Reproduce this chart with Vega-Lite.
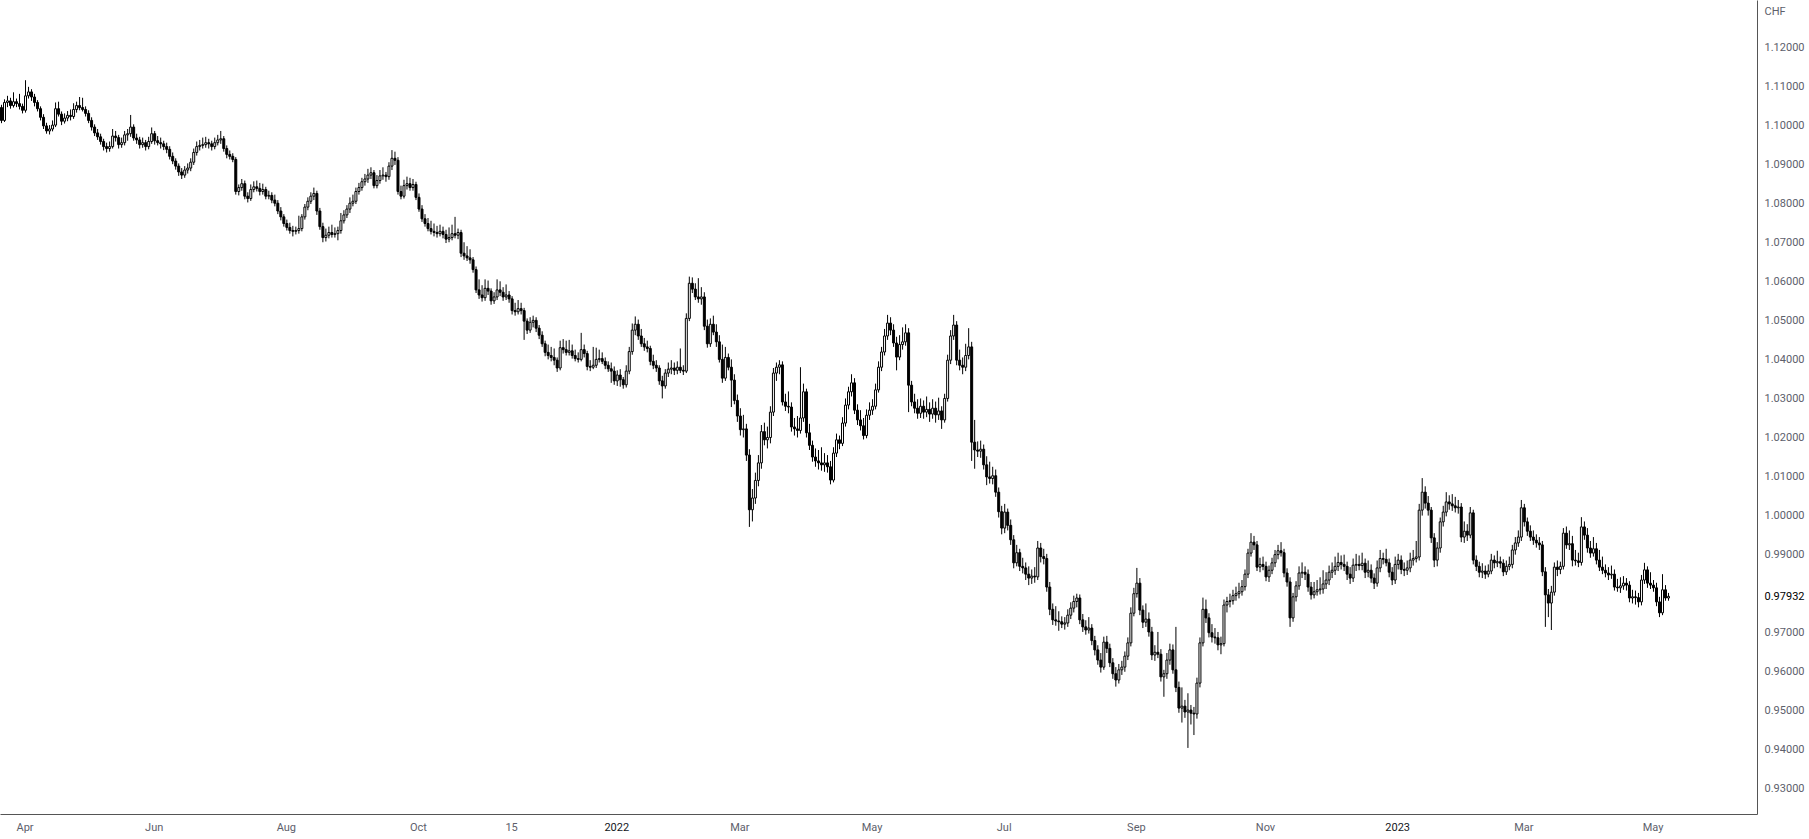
{"$schema":"https://vega.github.io/schema/vega-lite/v6.json","width":1757,"height":814,"autosize":{"type":"none"},"padding":{"left":0,"top":0,"right":52,"bottom":25},"background":"#ffffff","config":{"view":{"stroke":null},"font":"Roboto"},
"data":{"values":[
{"d":"2021-03-22","o":1.1045,"h":1.1052,"l":1.1005,"c":1.1012},
{"d":"2021-03-23","o":1.1012,"h":1.1066,"l":1.1008,"c":1.1058},
{"d":"2021-03-24","o":1.1058,"h":1.1075,"l":1.1046,"c":1.1062},
{"d":"2021-03-25","o":1.1062,"h":1.107,"l":1.1042,"c":1.105},
{"d":"2021-03-26","o":1.105,"h":1.1084,"l":1.1045,"c":1.106},
{"d":"2021-03-29","o":1.106,"h":1.1068,"l":1.1046,"c":1.1055},
{"d":"2021-03-30","o":1.1055,"h":1.108,"l":1.104,"c":1.1048},
{"d":"2021-03-31","o":1.1048,"h":1.1055,"l":1.103,"c":1.1038},
{"d":"2021-04-01","o":1.1038,"h":1.1115,"l":1.1032,"c":1.1075},
{"d":"2021-04-02","o":1.1075,"h":1.1098,"l":1.1068,"c":1.1085},
{"d":"2021-04-05","o":1.1085,"h":1.1092,"l":1.1062,"c":1.1072},
{"d":"2021-04-06","o":1.1072,"h":1.108,"l":1.1048,"c":1.1058},
{"d":"2021-04-07","o":1.1058,"h":1.1064,"l":1.1035,"c":1.1042},
{"d":"2021-04-08","o":1.1042,"h":1.1048,"l":1.1012,"c":1.102},
{"d":"2021-04-09","o":1.102,"h":1.1028,"l":1.099,"c":1.0998},
{"d":"2021-04-12","o":1.0998,"h":1.1006,"l":1.0978,"c":1.0985},
{"d":"2021-04-13","o":1.0985,"h":1.1,"l":1.0976,"c":1.099},
{"d":"2021-04-14","o":1.099,"h":1.1012,"l":1.0984,"c":1.1},
{"d":"2021-04-15","o":1.1,"h":1.1058,"l":1.0995,"c":1.1042},
{"d":"2021-04-16","o":1.1042,"h":1.106,"l":1.1022,"c":1.1028},
{"d":"2021-04-19","o":1.1028,"h":1.1035,"l":1.1,"c":1.101},
{"d":"2021-04-20","o":1.101,"h":1.103,"l":1.1004,"c":1.1018},
{"d":"2021-04-21","o":1.1018,"h":1.1036,"l":1.101,"c":1.1025},
{"d":"2021-04-22","o":1.1025,"h":1.104,"l":1.1012,"c":1.1022},
{"d":"2021-04-23","o":1.1022,"h":1.1056,"l":1.1016,"c":1.104},
{"d":"2021-04-26","o":1.104,"h":1.106,"l":1.1032,"c":1.105},
{"d":"2021-04-27","o":1.105,"h":1.1072,"l":1.1038,"c":1.1045},
{"d":"2021-04-28","o":1.1045,"h":1.107,"l":1.1035,"c":1.104},
{"d":"2021-04-29","o":1.104,"h":1.1048,"l":1.1022,"c":1.103},
{"d":"2021-04-30","o":1.103,"h":1.1038,"l":1.1005,"c":1.1012},
{"d":"2021-05-03","o":1.1012,"h":1.102,"l":1.0986,"c":1.0995},
{"d":"2021-05-04","o":1.0995,"h":1.1002,"l":1.0972,"c":1.098},
{"d":"2021-05-05","o":1.098,"h":1.099,"l":1.0962,"c":1.097},
{"d":"2021-05-06","o":1.097,"h":1.0978,"l":1.095,"c":1.0958},
{"d":"2021-05-07","o":1.0958,"h":1.0965,"l":1.0935,"c":1.0945},
{"d":"2021-05-10","o":1.0945,"h":1.0955,"l":1.093,"c":1.094},
{"d":"2021-05-11","o":1.094,"h":1.0958,"l":1.0932,"c":1.0945},
{"d":"2021-05-12","o":1.0945,"h":1.099,"l":1.094,"c":1.0972},
{"d":"2021-05-13","o":1.0972,"h":1.0985,"l":1.0958,"c":1.0968},
{"d":"2021-05-14","o":1.0968,"h":1.0975,"l":1.094,"c":1.095},
{"d":"2021-05-17","o":1.095,"h":1.0968,"l":1.0942,"c":1.0955},
{"d":"2021-05-18","o":1.0955,"h":1.0985,"l":1.0948,"c":1.0975},
{"d":"2021-05-19","o":1.0975,"h":1.099,"l":1.096,"c":1.0978},
{"d":"2021-05-20","o":1.0978,"h":1.1026,"l":1.097,"c":1.0995},
{"d":"2021-05-21","o":1.0995,"h":1.1002,"l":1.096,"c":1.0967},
{"d":"2021-05-24","o":1.0967,"h":1.0978,"l":1.0952,"c":1.0962},
{"d":"2021-05-25","o":1.0962,"h":1.097,"l":1.094,"c":1.095},
{"d":"2021-05-26","o":1.095,"h":1.0968,"l":1.0942,"c":1.0955},
{"d":"2021-05-27","o":1.0955,"h":1.0962,"l":1.0935,"c":1.0945},
{"d":"2021-05-28","o":1.0945,"h":1.097,"l":1.0938,"c":1.0958},
{"d":"2021-05-31","o":1.0958,"h":1.0994,"l":1.0952,"c":1.0978},
{"d":"2021-06-01","o":1.0978,"h":1.0985,"l":1.095,"c":1.096},
{"d":"2021-06-02","o":1.096,"h":1.0972,"l":1.0948,"c":1.0955},
{"d":"2021-06-03","o":1.0955,"h":1.0968,"l":1.094,"c":1.0952},
{"d":"2021-06-04","o":1.0952,"h":1.096,"l":1.0936,"c":1.0945},
{"d":"2021-06-07","o":1.0945,"h":1.0955,"l":1.0928,"c":1.0938},
{"d":"2021-06-08","o":1.0938,"h":1.0946,"l":1.0912,"c":1.092},
{"d":"2021-06-09","o":1.092,"h":1.093,"l":1.09,"c":1.0908},
{"d":"2021-06-10","o":1.0908,"h":1.0915,"l":1.0886,"c":1.0895},
{"d":"2021-06-11","o":1.0895,"h":1.0902,"l":1.087,"c":1.088},
{"d":"2021-06-14","o":1.088,"h":1.089,"l":1.0862,"c":1.0872},
{"d":"2021-06-15","o":1.0872,"h":1.0895,"l":1.0865,"c":1.0885},
{"d":"2021-06-16","o":1.0885,"h":1.0902,"l":1.0876,"c":1.089},
{"d":"2021-06-17","o":1.089,"h":1.0915,"l":1.0882,"c":1.0905},
{"d":"2021-06-18","o":1.0905,"h":1.094,"l":1.0898,"c":1.093},
{"d":"2021-06-21","o":1.093,"h":1.0958,"l":1.0922,"c":1.0945},
{"d":"2021-06-22","o":1.0945,"h":1.0962,"l":1.0935,"c":1.0948},
{"d":"2021-06-23","o":1.0948,"h":1.0968,"l":1.094,"c":1.095},
{"d":"2021-06-24","o":1.095,"h":1.097,"l":1.0942,"c":1.0955},
{"d":"2021-06-25","o":1.0955,"h":1.0965,"l":1.094,"c":1.0952},
{"d":"2021-06-28","o":1.0952,"h":1.096,"l":1.0935,"c":1.0945},
{"d":"2021-06-29","o":1.0945,"h":1.0968,"l":1.0938,"c":1.0955},
{"d":"2021-06-30","o":1.0955,"h":1.0975,"l":1.0948,"c":1.0962},
{"d":"2021-07-01","o":1.0962,"h":1.0985,"l":1.0952,"c":1.0965},
{"d":"2021-07-02","o":1.0965,"h":1.0972,"l":1.0932,"c":1.094},
{"d":"2021-07-05","o":1.094,"h":1.0948,"l":1.0915,"c":1.0925},
{"d":"2021-07-06","o":1.0925,"h":1.0935,"l":1.0912,"c":1.092},
{"d":"2021-07-07","o":1.092,"h":1.0928,"l":1.0905,"c":1.0912},
{"d":"2021-07-08","o":1.0912,"h":1.0918,"l":1.0822,"c":1.083},
{"d":"2021-07-09","o":1.083,"h":1.0848,"l":1.082,"c":1.084},
{"d":"2021-07-12","o":1.084,"h":1.0862,"l":1.0832,"c":1.085},
{"d":"2021-07-13","o":1.085,"h":1.0858,"l":1.081,"c":1.0818},
{"d":"2021-07-14","o":1.0818,"h":1.0828,"l":1.0802,"c":1.0812},
{"d":"2021-07-15","o":1.0812,"h":1.0848,"l":1.0806,"c":1.0835},
{"d":"2021-07-16","o":1.0835,"h":1.0856,"l":1.0828,"c":1.0842},
{"d":"2021-07-19","o":1.0842,"h":1.0858,"l":1.083,"c":1.0838},
{"d":"2021-07-20","o":1.0838,"h":1.0852,"l":1.082,"c":1.083},
{"d":"2021-07-21","o":1.083,"h":1.085,"l":1.0822,"c":1.0835},
{"d":"2021-07-22","o":1.0835,"h":1.0842,"l":1.081,"c":1.0818},
{"d":"2021-07-23","o":1.0818,"h":1.0832,"l":1.081,"c":1.082},
{"d":"2021-07-26","o":1.082,"h":1.0828,"l":1.08,"c":1.0808},
{"d":"2021-07-27","o":1.0808,"h":1.0822,"l":1.0792,"c":1.08},
{"d":"2021-07-28","o":1.08,"h":1.0808,"l":1.0772,"c":1.078},
{"d":"2021-07-29","o":1.078,"h":1.079,"l":1.0756,"c":1.0765},
{"d":"2021-07-30","o":1.0765,"h":1.0772,"l":1.074,"c":1.0748},
{"d":"2021-08-02","o":1.0748,"h":1.0758,"l":1.073,"c":1.0738},
{"d":"2021-08-03","o":1.0738,"h":1.075,"l":1.0722,"c":1.073},
{"d":"2021-08-04","o":1.073,"h":1.0742,"l":1.0715,"c":1.0728},
{"d":"2021-08-05","o":1.0728,"h":1.074,"l":1.072,"c":1.073},
{"d":"2021-08-06","o":1.073,"h":1.0768,"l":1.0722,"c":1.0735},
{"d":"2021-08-09","o":1.0735,"h":1.0772,"l":1.0728,"c":1.0765},
{"d":"2021-08-10","o":1.0765,"h":1.0798,"l":1.0758,"c":1.079},
{"d":"2021-08-11","o":1.079,"h":1.0815,"l":1.0782,"c":1.0805},
{"d":"2021-08-12","o":1.0805,"h":1.0828,"l":1.0798,"c":1.0818},
{"d":"2021-08-13","o":1.0818,"h":1.084,"l":1.0808,"c":1.0825},
{"d":"2021-08-16","o":1.0825,"h":1.0832,"l":1.077,"c":1.078},
{"d":"2021-08-17","o":1.078,"h":1.0788,"l":1.0732,"c":1.074},
{"d":"2021-08-18","o":1.074,"h":1.075,"l":1.07,"c":1.0712},
{"d":"2021-08-19","o":1.0712,"h":1.0735,"l":1.0702,"c":1.0718},
{"d":"2021-08-20","o":1.0718,"h":1.074,"l":1.071,"c":1.0725},
{"d":"2021-08-23","o":1.0725,"h":1.0745,"l":1.0712,"c":1.072},
{"d":"2021-08-24","o":1.072,"h":1.0738,"l":1.0712,"c":1.0722},
{"d":"2021-08-25","o":1.0722,"h":1.074,"l":1.0705,"c":1.073},
{"d":"2021-08-26","o":1.073,"h":1.0775,"l":1.0722,"c":1.0755},
{"d":"2021-08-27","o":1.0755,"h":1.0782,"l":1.0748,"c":1.077},
{"d":"2021-08-30","o":1.077,"h":1.0795,"l":1.0762,"c":1.0785},
{"d":"2021-08-31","o":1.0785,"h":1.0815,"l":1.0775,"c":1.08},
{"d":"2021-09-01","o":1.08,"h":1.0822,"l":1.0792,"c":1.0805},
{"d":"2021-09-02","o":1.0805,"h":1.084,"l":1.0798,"c":1.083},
{"d":"2021-09-03","o":1.083,"h":1.0852,"l":1.0822,"c":1.084},
{"d":"2021-09-06","o":1.084,"h":1.0865,"l":1.0832,"c":1.0855},
{"d":"2021-09-07","o":1.0855,"h":1.0875,"l":1.0845,"c":1.0862},
{"d":"2021-09-08","o":1.0862,"h":1.0888,"l":1.0852,"c":1.0872},
{"d":"2021-09-09","o":1.0872,"h":1.0892,"l":1.0862,"c":1.0878},
{"d":"2021-09-10","o":1.0878,"h":1.0885,"l":1.0838,"c":1.0845},
{"d":"2021-09-13","o":1.0845,"h":1.0872,"l":1.0838,"c":1.0858},
{"d":"2021-09-14","o":1.0858,"h":1.0885,"l":1.085,"c":1.087},
{"d":"2021-09-15","o":1.087,"h":1.0892,"l":1.086,"c":1.0872},
{"d":"2021-09-16","o":1.0872,"h":1.088,"l":1.0855,"c":1.0868},
{"d":"2021-09-17","o":1.0868,"h":1.0905,"l":1.086,"c":1.0895},
{"d":"2021-09-20","o":1.0895,"h":1.0936,"l":1.0885,"c":1.0915},
{"d":"2021-09-21","o":1.0915,"h":1.0932,"l":1.0898,"c":1.091},
{"d":"2021-09-22","o":1.091,"h":1.0918,"l":1.0822,"c":1.083},
{"d":"2021-09-23","o":1.083,"h":1.0845,"l":1.081,"c":1.0818},
{"d":"2021-09-24","o":1.0818,"h":1.086,"l":1.0812,"c":1.0845},
{"d":"2021-09-27","o":1.0845,"h":1.0868,"l":1.0835,"c":1.085},
{"d":"2021-09-28","o":1.085,"h":1.0865,"l":1.0832,"c":1.084},
{"d":"2021-09-29","o":1.084,"h":1.0862,"l":1.0832,"c":1.0848},
{"d":"2021-09-30","o":1.0848,"h":1.0855,"l":1.0808,"c":1.0815},
{"d":"2021-10-01","o":1.0815,"h":1.0825,"l":1.0778,"c":1.0785},
{"d":"2021-10-04","o":1.0785,"h":1.0795,"l":1.0752,"c":1.076},
{"d":"2021-10-05","o":1.076,"h":1.0772,"l":1.074,"c":1.0748},
{"d":"2021-10-06","o":1.0748,"h":1.0762,"l":1.0728,"c":1.0735},
{"d":"2021-10-07","o":1.0735,"h":1.0755,"l":1.072,"c":1.0728},
{"d":"2021-10-08","o":1.0728,"h":1.0748,"l":1.0715,"c":1.0725},
{"d":"2021-10-11","o":1.0725,"h":1.0742,"l":1.0712,"c":1.0722},
{"d":"2021-10-12","o":1.0722,"h":1.0745,"l":1.0715,"c":1.0728},
{"d":"2021-10-13","o":1.0728,"h":1.074,"l":1.071,"c":1.072},
{"d":"2021-10-14","o":1.072,"h":1.0732,"l":1.0698,"c":1.0708},
{"d":"2021-10-15","o":1.0708,"h":1.0738,"l":1.07,"c":1.0712},
{"d":"2021-10-18","o":1.0712,"h":1.0745,"l":1.0705,"c":1.0722},
{"d":"2021-10-19","o":1.0722,"h":1.0765,"l":1.071,"c":1.0718},
{"d":"2021-10-20","o":1.0718,"h":1.0735,"l":1.0708,"c":1.0725},
{"d":"2021-10-21","o":1.0725,"h":1.0732,"l":1.0662,"c":1.0672},
{"d":"2021-10-22","o":1.0672,"h":1.07,"l":1.0655,"c":1.0665},
{"d":"2021-10-25","o":1.0665,"h":1.069,"l":1.0652,"c":1.066},
{"d":"2021-10-26","o":1.066,"h":1.0682,"l":1.0645,"c":1.0655},
{"d":"2021-10-27","o":1.0655,"h":1.0662,"l":1.0622,"c":1.063},
{"d":"2021-10-28","o":1.063,"h":1.0638,"l":1.057,"c":1.0578},
{"d":"2021-10-29","o":1.0578,"h":1.0605,"l":1.0555,"c":1.0565},
{"d":"2021-11-01","o":1.0565,"h":1.059,"l":1.0548,"c":1.0558},
{"d":"2021-11-02","o":1.0558,"h":1.0605,"l":1.055,"c":1.0582},
{"d":"2021-11-03","o":1.0582,"h":1.0602,"l":1.0565,"c":1.0575},
{"d":"2021-11-04","o":1.0575,"h":1.0582,"l":1.054,"c":1.055},
{"d":"2021-11-05","o":1.055,"h":1.0572,"l":1.0542,"c":1.056},
{"d":"2021-11-08","o":1.056,"h":1.0605,"l":1.0552,"c":1.0578},
{"d":"2021-11-09","o":1.0578,"h":1.06,"l":1.0562,"c":1.0572},
{"d":"2021-11-10","o":1.0572,"h":1.0585,"l":1.055,"c":1.056},
{"d":"2021-11-11","o":1.056,"h":1.0592,"l":1.0552,"c":1.0565},
{"d":"2021-11-12","o":1.0565,"h":1.0575,"l":1.0545,"c":1.0555},
{"d":"2021-11-15","o":1.0555,"h":1.0562,"l":1.0515,"c":1.0525},
{"d":"2021-11-16","o":1.0525,"h":1.0545,"l":1.0512,"c":1.0522},
{"d":"2021-11-17","o":1.0522,"h":1.0552,"l":1.0515,"c":1.053},
{"d":"2021-11-18","o":1.053,"h":1.0545,"l":1.0515,"c":1.0525},
{"d":"2021-11-19","o":1.0525,"h":1.0532,"l":1.045,"c":1.0498},
{"d":"2021-11-22","o":1.0498,"h":1.0505,"l":1.0465,"c":1.0475},
{"d":"2021-11-23","o":1.0475,"h":1.0508,"l":1.0468,"c":1.0495},
{"d":"2021-11-24","o":1.0495,"h":1.0512,"l":1.0482,"c":1.05},
{"d":"2021-11-25","o":1.05,"h":1.0508,"l":1.047,"c":1.048},
{"d":"2021-11-26","o":1.048,"h":1.0488,"l":1.0452,"c":1.0462},
{"d":"2021-11-29","o":1.0462,"h":1.0472,"l":1.0432,"c":1.044},
{"d":"2021-11-30","o":1.044,"h":1.0448,"l":1.0408,"c":1.0418},
{"d":"2021-12-01","o":1.0418,"h":1.0438,"l":1.04,"c":1.041},
{"d":"2021-12-02","o":1.041,"h":1.0432,"l":1.0395,"c":1.0405},
{"d":"2021-12-03","o":1.0405,"h":1.0428,"l":1.0385,"c":1.0398},
{"d":"2021-12-06","o":1.0398,"h":1.0405,"l":1.0368,"c":1.0378},
{"d":"2021-12-07","o":1.0378,"h":1.0448,"l":1.0372,"c":1.043},
{"d":"2021-12-08","o":1.043,"h":1.0452,"l":1.0415,"c":1.0425},
{"d":"2021-12-09","o":1.0425,"h":1.0448,"l":1.041,"c":1.0418},
{"d":"2021-12-10","o":1.0418,"h":1.045,"l":1.041,"c":1.0422},
{"d":"2021-12-13","o":1.0422,"h":1.0438,"l":1.0402,"c":1.041},
{"d":"2021-12-14","o":1.041,"h":1.0425,"l":1.0395,"c":1.0402},
{"d":"2021-12-15","o":1.0402,"h":1.0418,"l":1.0392,"c":1.04},
{"d":"2021-12-16","o":1.04,"h":1.0468,"l":1.0395,"c":1.0425},
{"d":"2021-12-17","o":1.0425,"h":1.0438,"l":1.0405,"c":1.0415},
{"d":"2021-12-20","o":1.0415,"h":1.0422,"l":1.0372,"c":1.0382},
{"d":"2021-12-21","o":1.0382,"h":1.0398,"l":1.037,"c":1.038},
{"d":"2021-12-22","o":1.038,"h":1.0432,"l":1.0375,"c":1.0385},
{"d":"2021-12-23","o":1.0385,"h":1.043,"l":1.0378,"c":1.04},
{"d":"2021-12-24","o":1.04,"h":1.0425,"l":1.0392,"c":1.0402},
{"d":"2021-12-27","o":1.0402,"h":1.0418,"l":1.0388,"c":1.0395},
{"d":"2021-12-28","o":1.0395,"h":1.0405,"l":1.0375,"c":1.0385},
{"d":"2021-12-29","o":1.0385,"h":1.0395,"l":1.0368,"c":1.0376},
{"d":"2021-12-30","o":1.0376,"h":1.0392,"l":1.034,"c":1.037},
{"d":"2021-12-31","o":1.037,"h":1.0382,"l":1.0335,"c":1.0345},
{"d":"2022-01-03","o":1.0345,"h":1.0372,"l":1.0332,"c":1.036},
{"d":"2022-01-04","o":1.036,"h":1.0375,"l":1.033,"c":1.0348},
{"d":"2022-01-05","o":1.0348,"h":1.0355,"l":1.0325,"c":1.0335},
{"d":"2022-01-06","o":1.0335,"h":1.0385,"l":1.0328,"c":1.037},
{"d":"2022-01-07","o":1.037,"h":1.0432,"l":1.0362,"c":1.042},
{"d":"2022-01-10","o":1.042,"h":1.0492,"l":1.0412,"c":1.0475},
{"d":"2022-01-11","o":1.0475,"h":1.051,"l":1.0462,"c":1.049},
{"d":"2022-01-12","o":1.049,"h":1.0502,"l":1.045,"c":1.046},
{"d":"2022-01-13","o":1.046,"h":1.0478,"l":1.0432,"c":1.044},
{"d":"2022-01-14","o":1.044,"h":1.0455,"l":1.0422,"c":1.0432},
{"d":"2022-01-17","o":1.0432,"h":1.0448,"l":1.0418,"c":1.0428},
{"d":"2022-01-18","o":1.0428,"h":1.0435,"l":1.0385,"c":1.0395},
{"d":"2022-01-19","o":1.0395,"h":1.0412,"l":1.0375,"c":1.0385},
{"d":"2022-01-20","o":1.0385,"h":1.0398,"l":1.0368,"c":1.0378},
{"d":"2022-01-21","o":1.0378,"h":1.0385,"l":1.0335,"c":1.0345},
{"d":"2022-01-24","o":1.0345,"h":1.0358,"l":1.03,"c":1.0332},
{"d":"2022-01-25","o":1.0332,"h":1.0375,"l":1.0325,"c":1.0365},
{"d":"2022-01-26","o":1.0365,"h":1.0392,"l":1.0355,"c":1.0375},
{"d":"2022-01-27","o":1.0375,"h":1.0398,"l":1.0362,"c":1.0378},
{"d":"2022-01-28","o":1.0378,"h":1.0392,"l":1.036,"c":1.0372},
{"d":"2022-01-31","o":1.0372,"h":1.0395,"l":1.0362,"c":1.038},
{"d":"2022-02-01","o":1.038,"h":1.0428,"l":1.0365,"c":1.0372},
{"d":"2022-02-02","o":1.0372,"h":1.0385,"l":1.036,"c":1.037},
{"d":"2022-02-03","o":1.037,"h":1.0518,"l":1.0365,"c":1.0505},
{"d":"2022-02-04","o":1.0505,"h":1.0612,"l":1.0498,"c":1.0595},
{"d":"2022-02-07","o":1.0595,"h":1.061,"l":1.057,"c":1.058},
{"d":"2022-02-08","o":1.058,"h":1.0595,"l":1.0552,"c":1.056},
{"d":"2022-02-09","o":1.056,"h":1.0608,"l":1.0545,"c":1.0555},
{"d":"2022-02-10","o":1.0555,"h":1.0585,"l":1.054,"c":1.056},
{"d":"2022-02-11","o":1.056,"h":1.0572,"l":1.0475,"c":1.0485},
{"d":"2022-02-14","o":1.0485,"h":1.0502,"l":1.043,"c":1.044},
{"d":"2022-02-15","o":1.044,"h":1.0505,"l":1.0432,"c":1.049},
{"d":"2022-02-16","o":1.049,"h":1.0512,"l":1.0462,"c":1.047},
{"d":"2022-02-17","o":1.047,"h":1.049,"l":1.0432,"c":1.0445},
{"d":"2022-02-18","o":1.0445,"h":1.0462,"l":1.0392,"c":1.04},
{"d":"2022-02-21","o":1.04,"h":1.0438,"l":1.034,"c":1.0352},
{"d":"2022-02-22","o":1.0352,"h":1.0432,"l":1.0345,"c":1.0405},
{"d":"2022-02-23","o":1.0405,"h":1.0415,"l":1.0372,"c":1.038},
{"d":"2022-02-24","o":1.038,"h":1.04,"l":1.0278,"c":1.0347},
{"d":"2022-02-25","o":1.0347,"h":1.0362,"l":1.0285,"c":1.0295},
{"d":"2022-02-28","o":1.0295,"h":1.031,"l":1.024,"c":1.0255},
{"d":"2022-03-01","o":1.0255,"h":1.0275,"l":1.0205,"c":1.022},
{"d":"2022-03-02","o":1.022,"h":1.0258,"l":1.02,"c":1.0222},
{"d":"2022-03-03","o":1.0222,"h":1.0235,"l":1.014,"c":1.0155},
{"d":"2022-03-04","o":1.0155,"h":1.017,"l":0.9971,"c":1.0015},
{"d":"2022-03-07","o":1.0015,"h":1.0068,"l":0.9985,"c":1.0045},
{"d":"2022-03-08","o":1.0045,"h":1.011,"l":1.003,"c":1.009},
{"d":"2022-03-09","o":1.009,"h":1.0155,"l":1.0075,"c":1.0135},
{"d":"2022-03-10","o":1.0135,"h":1.0232,"l":1.012,"c":1.0215},
{"d":"2022-03-11","o":1.0215,"h":1.0238,"l":1.018,"c":1.0194},
{"d":"2022-03-14","o":1.0194,"h":1.0228,"l":1.0172,"c":1.02},
{"d":"2022-03-15","o":1.02,"h":1.028,"l":1.0185,"c":1.0265},
{"d":"2022-03-16","o":1.0265,"h":1.0378,"l":1.0255,"c":1.0365},
{"d":"2022-03-17","o":1.0365,"h":1.0392,"l":1.0345,"c":1.038},
{"d":"2022-03-18","o":1.038,"h":1.0398,"l":1.0362,"c":1.0386},
{"d":"2022-03-21","o":1.0386,"h":1.0395,"l":1.0282,"c":1.0291},
{"d":"2022-03-22","o":1.0291,"h":1.0312,"l":1.0268,"c":1.028},
{"d":"2022-03-23","o":1.028,"h":1.0318,"l":1.0262,"c":1.0278},
{"d":"2022-03-24","o":1.0278,"h":1.029,"l":1.0215,"c":1.0227},
{"d":"2022-03-25","o":1.0227,"h":1.025,"l":1.0205,"c":1.0222},
{"d":"2022-03-28","o":1.0222,"h":1.0255,"l":1.02,"c":1.0218},
{"d":"2022-03-29","o":1.0218,"h":1.038,"l":1.021,"c":1.025},
{"d":"2022-03-30","o":1.025,"h":1.0338,"l":1.024,"c":1.0317},
{"d":"2022-03-31","o":1.0317,"h":1.0325,"l":1.02,"c":1.0212},
{"d":"2022-04-01","o":1.0212,"h":1.0235,"l":1.0168,"c":1.018},
{"d":"2022-04-04","o":1.018,"h":1.0192,"l":1.0138,"c":1.015},
{"d":"2022-04-05","o":1.015,"h":1.0172,"l":1.0125,"c":1.014},
{"d":"2022-04-06","o":1.014,"h":1.0168,"l":1.0118,"c":1.0135},
{"d":"2022-04-07","o":1.0135,"h":1.0175,"l":1.0115,"c":1.013},
{"d":"2022-04-08","o":1.013,"h":1.016,"l":1.0112,"c":1.0135},
{"d":"2022-04-11","o":1.0135,"h":1.0155,"l":1.011,"c":1.0125},
{"d":"2022-04-12","o":1.0125,"h":1.014,"l":1.008,"c":1.0091},
{"d":"2022-04-13","o":1.0091,"h":1.0175,"l":1.0085,"c":1.016},
{"d":"2022-04-14","o":1.016,"h":1.021,"l":1.015,"c":1.0194},
{"d":"2022-04-15","o":1.0194,"h":1.0205,"l":1.017,"c":1.0185},
{"d":"2022-04-18","o":1.0185,"h":1.0252,"l":1.0178,"c":1.0237},
{"d":"2022-04-19","o":1.0237,"h":1.03,"l":1.0228,"c":1.0283},
{"d":"2022-04-20","o":1.0283,"h":1.033,"l":1.0272,"c":1.0317},
{"d":"2022-04-21","o":1.0317,"h":1.0362,"l":1.0305,"c":1.034},
{"d":"2022-04-22","o":1.034,"h":1.0352,"l":1.026,"c":1.027},
{"d":"2022-04-25","o":1.027,"h":1.0285,"l":1.0232,"c":1.0245},
{"d":"2022-04-26","o":1.0245,"h":1.027,"l":1.0218,"c":1.023},
{"d":"2022-04-27","o":1.023,"h":1.025,"l":1.0195,"c":1.0205},
{"d":"2022-04-28","o":1.0205,"h":1.0272,"l":1.0198,"c":1.0257},
{"d":"2022-04-29","o":1.0257,"h":1.029,"l":1.0245,"c":1.027},
{"d":"2022-05-02","o":1.027,"h":1.0298,"l":1.0258,"c":1.028},
{"d":"2022-05-03","o":1.028,"h":1.0338,"l":1.0272,"c":1.0322},
{"d":"2022-05-04","o":1.0322,"h":1.0395,"l":1.0315,"c":1.038},
{"d":"2022-05-05","o":1.038,"h":1.0432,"l":1.037,"c":1.0419},
{"d":"2022-05-06","o":1.0419,"h":1.0478,"l":1.041,"c":1.046},
{"d":"2022-05-09","o":1.046,"h":1.0514,"l":1.045,"c":1.0493},
{"d":"2022-05-10","o":1.0493,"h":1.0508,"l":1.0462,"c":1.0475},
{"d":"2022-05-11","o":1.0475,"h":1.049,"l":1.0432,"c":1.0442},
{"d":"2022-05-12","o":1.0442,"h":1.0458,"l":1.0372,"c":1.0406},
{"d":"2022-05-13","o":1.0406,"h":1.0462,"l":1.0398,"c":1.0438},
{"d":"2022-05-16","o":1.0438,"h":1.0482,"l":1.0425,"c":1.0445},
{"d":"2022-05-17","o":1.0445,"h":1.049,"l":1.0435,"c":1.0468},
{"d":"2022-05-18","o":1.0468,"h":1.048,"l":1.0265,"c":1.0334},
{"d":"2022-05-19","o":1.0334,"h":1.0345,"l":1.028,"c":1.0291},
{"d":"2022-05-20","o":1.0291,"h":1.0312,"l":1.0262,"c":1.0275},
{"d":"2022-05-23","o":1.0275,"h":1.0298,"l":1.0248,"c":1.0262},
{"d":"2022-05-24","o":1.0262,"h":1.03,"l":1.025,"c":1.028},
{"d":"2022-05-25","o":1.028,"h":1.0295,"l":1.0248,"c":1.0265},
{"d":"2022-05-26","o":1.0265,"h":1.0305,"l":1.0252,"c":1.0272},
{"d":"2022-05-27","o":1.0272,"h":1.029,"l":1.024,"c":1.026},
{"d":"2022-05-30","o":1.026,"h":1.0298,"l":1.0248,"c":1.0275},
{"d":"2022-05-31","o":1.0275,"h":1.0292,"l":1.0238,"c":1.0258},
{"d":"2022-06-01","o":1.0258,"h":1.0302,"l":1.0245,"c":1.0268},
{"d":"2022-06-02","o":1.0268,"h":1.028,"l":1.0222,"c":1.0245},
{"d":"2022-06-03","o":1.0245,"h":1.0312,"l":1.0238,"c":1.03},
{"d":"2022-06-06","o":1.03,"h":1.0412,"l":1.0292,"c":1.0398},
{"d":"2022-06-07","o":1.0398,"h":1.0475,"l":1.0388,"c":1.046},
{"d":"2022-06-08","o":1.046,"h":1.0514,"l":1.045,"c":1.0488},
{"d":"2022-06-09","o":1.0488,"h":1.0498,"l":1.0385,"c":1.0398},
{"d":"2022-06-10","o":1.0398,"h":1.0425,"l":1.0372,"c":1.0385},
{"d":"2022-06-13","o":1.0385,"h":1.0405,"l":1.0362,"c":1.038},
{"d":"2022-06-14","o":1.038,"h":1.044,"l":1.037,"c":1.041},
{"d":"2022-06-15","o":1.041,"h":1.048,"l":1.04,"c":1.0432},
{"d":"2022-06-16","o":1.0432,"h":1.0445,"l":1.014,"c":1.0188},
{"d":"2022-06-17","o":1.0188,"h":1.0245,"l":1.012,"c":1.0168},
{"d":"2022-06-20","o":1.0168,"h":1.019,"l":1.015,"c":1.0165},
{"d":"2022-06-21","o":1.0165,"h":1.0192,"l":1.0148,"c":1.017},
{"d":"2022-06-22","o":1.017,"h":1.0182,"l":1.0118,"c":1.013},
{"d":"2022-06-23","o":1.013,"h":1.0152,"l":1.0078,"c":1.0099},
{"d":"2022-06-24","o":1.0099,"h":1.0138,"l":1.0082,"c":1.0095},
{"d":"2022-06-27","o":1.0095,"h":1.0125,"l":1.008,"c":1.0102},
{"d":"2022-06-28","o":1.0102,"h":1.0118,"l":1.0048,"c":1.006},
{"d":"2022-06-29","o":1.006,"h":1.0072,"l":0.9995,"c":1.001},
{"d":"2022-06-30","o":1.001,"h":1.0025,"l":0.9952,"c":0.9968},
{"d":"2022-07-01","o":0.9968,"h":1.003,"l":0.9955,"c":1.0009},
{"d":"2022-07-04","o":1.0009,"h":1.0018,"l":0.9962,"c":0.9975},
{"d":"2022-07-05","o":0.9975,"h":0.999,"l":0.9925,"c":0.9938},
{"d":"2022-07-06","o":0.9938,"h":0.995,"l":0.9865,"c":0.9879},
{"d":"2022-07-07","o":0.9879,"h":0.9925,"l":0.987,"c":0.9905},
{"d":"2022-07-08","o":0.9905,"h":0.9915,"l":0.9858,"c":0.987},
{"d":"2022-07-11","o":0.987,"h":0.9892,"l":0.9852,"c":0.9866},
{"d":"2022-07-12","o":0.9866,"h":0.988,"l":0.9835,"c":0.985},
{"d":"2022-07-13","o":0.985,"h":0.987,"l":0.9822,"c":0.984},
{"d":"2022-07-14","o":0.984,"h":0.9862,"l":0.9825,"c":0.9845},
{"d":"2022-07-15","o":0.9845,"h":0.9868,"l":0.9828,"c":0.9843},
{"d":"2022-07-18","o":0.9843,"h":0.9935,"l":0.9835,"c":0.9917},
{"d":"2022-07-19","o":0.9917,"h":0.993,"l":0.988,"c":0.9895},
{"d":"2022-07-20","o":0.9895,"h":0.9915,"l":0.9875,"c":0.989},
{"d":"2022-07-21","o":0.989,"h":0.9902,"l":0.9805,"c":0.9817},
{"d":"2022-07-22","o":0.9817,"h":0.983,"l":0.9745,"c":0.976},
{"d":"2022-07-25","o":0.976,"h":0.9775,"l":0.972,"c":0.9733},
{"d":"2022-07-26","o":0.9733,"h":0.9768,"l":0.9718,"c":0.973},
{"d":"2022-07-27","o":0.973,"h":0.9755,"l":0.9705,"c":0.9728},
{"d":"2022-07-28","o":0.9728,"h":0.9742,"l":0.9712,"c":0.9722},
{"d":"2022-07-29","o":0.9722,"h":0.974,"l":0.9708,"c":0.9725},
{"d":"2022-08-01","o":0.9725,"h":0.976,"l":0.9715,"c":0.9745},
{"d":"2022-08-02","o":0.9745,"h":0.9778,"l":0.9735,"c":0.9763},
{"d":"2022-08-03","o":0.9763,"h":0.9795,"l":0.9752,"c":0.978},
{"d":"2022-08-04","o":0.978,"h":0.98,"l":0.9765,"c":0.9789},
{"d":"2022-08-05","o":0.9789,"h":0.9798,"l":0.9722,"c":0.9733},
{"d":"2022-08-08","o":0.9733,"h":0.9748,"l":0.9702,"c":0.9715},
{"d":"2022-08-09","o":0.9715,"h":0.9732,"l":0.9695,"c":0.9707},
{"d":"2022-08-10","o":0.9707,"h":0.974,"l":0.9698,"c":0.9712},
{"d":"2022-08-11","o":0.9712,"h":0.9722,"l":0.9668,"c":0.968},
{"d":"2022-08-12","o":0.968,"h":0.9692,"l":0.9642,"c":0.9656},
{"d":"2022-08-15","o":0.9656,"h":0.9668,"l":0.9618,"c":0.963},
{"d":"2022-08-16","o":0.963,"h":0.9648,"l":0.9598,"c":0.9612},
{"d":"2022-08-17","o":0.9612,"h":0.969,"l":0.9605,"c":0.9676},
{"d":"2022-08-18","o":0.9676,"h":0.9692,"l":0.9648,"c":0.966},
{"d":"2022-08-19","o":0.966,"h":0.9672,"l":0.9612,"c":0.9623},
{"d":"2022-08-22","o":0.9623,"h":0.9635,"l":0.9582,"c":0.9595},
{"d":"2022-08-23","o":0.9595,"h":0.9612,"l":0.9562,"c":0.9579},
{"d":"2022-08-24","o":0.9579,"h":0.962,"l":0.957,"c":0.9605},
{"d":"2022-08-25","o":0.9605,"h":0.9628,"l":0.9592,"c":0.9612},
{"d":"2022-08-26","o":0.9612,"h":0.9652,"l":0.96,"c":0.964},
{"d":"2022-08-29","o":0.964,"h":0.9688,"l":0.963,"c":0.9674},
{"d":"2022-08-30","o":0.9674,"h":0.9765,"l":0.9665,"c":0.975},
{"d":"2022-08-31","o":0.975,"h":0.9815,"l":0.9742,"c":0.98},
{"d":"2022-09-01","o":0.98,"h":0.9866,"l":0.979,"c":0.9827},
{"d":"2022-09-02","o":0.9827,"h":0.984,"l":0.9745,"c":0.9758},
{"d":"2022-09-05","o":0.9758,"h":0.977,"l":0.9712,"c":0.9727},
{"d":"2022-09-06","o":0.9727,"h":0.9775,"l":0.9715,"c":0.9735},
{"d":"2022-09-07","o":0.9735,"h":0.9752,"l":0.969,"c":0.9702},
{"d":"2022-09-08","o":0.9702,"h":0.9715,"l":0.963,"c":0.9643},
{"d":"2022-09-09","o":0.9643,"h":0.9668,"l":0.9628,"c":0.965},
{"d":"2022-09-12","o":0.965,"h":0.9702,"l":0.9635,"c":0.9645},
{"d":"2022-09-13","o":0.9645,"h":0.9658,"l":0.9575,"c":0.9587},
{"d":"2022-09-14","o":0.9587,"h":0.9605,"l":0.9536,"c":0.9595},
{"d":"2022-09-15","o":0.9595,"h":0.9648,"l":0.9582,"c":0.963},
{"d":"2022-09-16","o":0.963,"h":0.9672,"l":0.9618,"c":0.9656},
{"d":"2022-09-19","o":0.9656,"h":0.967,"l":0.9595,"c":0.9605},
{"d":"2022-09-20","o":0.9605,"h":0.9715,"l":0.9548,"c":0.956},
{"d":"2022-09-21","o":0.956,"h":0.9575,"l":0.9495,"c":0.9507},
{"d":"2022-09-22","o":0.9507,"h":0.956,"l":0.947,"c":0.9512},
{"d":"2022-09-23","o":0.9512,"h":0.9528,"l":0.9482,"c":0.9497},
{"d":"2022-09-26","o":0.9497,"h":0.9545,"l":0.9405,"c":0.9502},
{"d":"2022-09-27","o":0.9502,"h":0.9515,"l":0.9465,"c":0.9494},
{"d":"2022-09-28","o":0.9494,"h":0.951,"l":0.9438,"c":0.9492},
{"d":"2022-09-29","o":0.9492,"h":0.9585,"l":0.948,"c":0.9571},
{"d":"2022-09-30","o":0.9571,"h":0.9688,"l":0.956,"c":0.9674},
{"d":"2022-10-03","o":0.9674,"h":0.979,"l":0.9665,"c":0.976},
{"d":"2022-10-04","o":0.976,"h":0.9785,"l":0.9725,"c":0.9738},
{"d":"2022-10-05","o":0.9738,"h":0.975,"l":0.9688,"c":0.97},
{"d":"2022-10-06","o":0.97,"h":0.9722,"l":0.9675,"c":0.9689},
{"d":"2022-10-07","o":0.9689,"h":0.9712,"l":0.9672,"c":0.9687},
{"d":"2022-10-10","o":0.9687,"h":0.9702,"l":0.9655,"c":0.9669},
{"d":"2022-10-11","o":0.9669,"h":0.969,"l":0.9645,"c":0.9672},
{"d":"2022-10-12","o":0.9672,"h":0.9785,"l":0.9665,"c":0.9771},
{"d":"2022-10-13","o":0.9771,"h":0.9792,"l":0.9752,"c":0.978},
{"d":"2022-10-14","o":0.978,"h":0.98,"l":0.9765,"c":0.9782},
{"d":"2022-10-17","o":0.9782,"h":0.981,"l":0.9772,"c":0.9795},
{"d":"2022-10-18","o":0.9795,"h":0.9818,"l":0.9782,"c":0.98},
{"d":"2022-10-19","o":0.98,"h":0.9828,"l":0.9788,"c":0.9805},
{"d":"2022-10-20","o":0.9805,"h":0.9835,"l":0.9795,"c":0.9818},
{"d":"2022-10-21","o":0.9818,"h":0.9862,"l":0.9808,"c":0.985},
{"d":"2022-10-24","o":0.985,"h":0.9915,"l":0.984,"c":0.9904},
{"d":"2022-10-25","o":0.9904,"h":0.9955,"l":0.9895,"c":0.9932},
{"d":"2022-10-26","o":0.9932,"h":0.9948,"l":0.9912,"c":0.9925},
{"d":"2022-10-27","o":0.9925,"h":0.9935,"l":0.9858,"c":0.9868},
{"d":"2022-10-28","o":0.9868,"h":0.9892,"l":0.9855,"c":0.9875},
{"d":"2022-10-31","o":0.9875,"h":0.9895,"l":0.986,"c":0.987},
{"d":"2022-11-01","o":0.987,"h":0.9882,"l":0.9832,"c":0.9843},
{"d":"2022-11-02","o":0.9843,"h":0.9872,"l":0.983,"c":0.986},
{"d":"2022-11-03","o":0.986,"h":0.9892,"l":0.985,"c":0.9879},
{"d":"2022-11-04","o":0.9879,"h":0.9912,"l":0.9868,"c":0.99},
{"d":"2022-11-07","o":0.99,"h":0.9925,"l":0.9888,"c":0.991},
{"d":"2022-11-08","o":0.991,"h":0.9932,"l":0.9895,"c":0.9905},
{"d":"2022-11-09","o":0.9905,"h":0.9915,"l":0.9842,"c":0.9853},
{"d":"2022-11-10","o":0.9853,"h":0.9865,"l":0.9818,"c":0.983},
{"d":"2022-11-11","o":0.983,"h":0.9842,"l":0.9715,"c":0.9738},
{"d":"2022-11-14","o":0.9738,"h":0.9802,"l":0.9728,"c":0.9792},
{"d":"2022-11-15","o":0.9792,"h":0.9832,"l":0.978,"c":0.982},
{"d":"2022-11-16","o":0.982,"h":0.987,"l":0.981,"c":0.9853},
{"d":"2022-11-17","o":0.9853,"h":0.988,"l":0.984,"c":0.9855},
{"d":"2022-11-18","o":0.9855,"h":0.987,"l":0.9835,"c":0.985},
{"d":"2022-11-21","o":0.985,"h":0.9862,"l":0.9805,"c":0.9817},
{"d":"2022-11-22","o":0.9817,"h":0.983,"l":0.9785,"c":0.9797},
{"d":"2022-11-23","o":0.9797,"h":0.983,"l":0.9788,"c":0.9805},
{"d":"2022-11-24","o":0.9805,"h":0.9835,"l":0.9795,"c":0.981},
{"d":"2022-11-25","o":0.981,"h":0.9842,"l":0.9798,"c":0.9812},
{"d":"2022-11-28","o":0.9812,"h":0.986,"l":0.98,"c":0.9825},
{"d":"2022-11-29","o":0.9825,"h":0.9855,"l":0.9812,"c":0.9835},
{"d":"2022-11-30","o":0.9835,"h":0.9872,"l":0.9822,"c":0.9855},
{"d":"2022-12-01","o":0.9855,"h":0.988,"l":0.984,"c":0.986},
{"d":"2022-12-02","o":0.986,"h":0.9895,"l":0.9848,"c":0.987},
{"d":"2022-12-05","o":0.987,"h":0.9905,"l":0.9858,"c":0.988},
{"d":"2022-12-06","o":0.988,"h":0.9898,"l":0.9862,"c":0.9875},
{"d":"2022-12-07","o":0.9875,"h":0.99,"l":0.9858,"c":0.987},
{"d":"2022-12-08","o":0.987,"h":0.9882,"l":0.9835,"c":0.985},
{"d":"2022-12-09","o":0.985,"h":0.9868,"l":0.9825,"c":0.984},
{"d":"2022-12-12","o":0.984,"h":0.989,"l":0.983,"c":0.9873},
{"d":"2022-12-13","o":0.9873,"h":0.9902,"l":0.9858,"c":0.9875},
{"d":"2022-12-14","o":0.9875,"h":0.9898,"l":0.986,"c":0.9872},
{"d":"2022-12-15","o":0.9872,"h":0.9905,"l":0.986,"c":0.9878},
{"d":"2022-12-16","o":0.9878,"h":0.989,"l":0.984,"c":0.9855},
{"d":"2022-12-19","o":0.9855,"h":0.9885,"l":0.9842,"c":0.986},
{"d":"2022-12-20","o":0.986,"h":0.9875,"l":0.9828,"c":0.984},
{"d":"2022-12-21","o":0.984,"h":0.9852,"l":0.9812,"c":0.9827},
{"d":"2022-12-22","o":0.9827,"h":0.9885,"l":0.9818,"c":0.9866},
{"d":"2022-12-23","o":0.9866,"h":0.9912,"l":0.9855,"c":0.989},
{"d":"2022-12-26","o":0.989,"h":0.9905,"l":0.9875,"c":0.9888},
{"d":"2022-12-27","o":0.9888,"h":0.9915,"l":0.987,"c":0.9879},
{"d":"2022-12-28","o":0.9879,"h":0.989,"l":0.9842,"c":0.9855},
{"d":"2022-12-29","o":0.9855,"h":0.9868,"l":0.9822,"c":0.9835},
{"d":"2022-12-30","o":0.9835,"h":0.9895,"l":0.9825,"c":0.9875},
{"d":"2023-01-02","o":0.9875,"h":0.9902,"l":0.9862,"c":0.9886},
{"d":"2023-01-03","o":0.9886,"h":0.9898,"l":0.985,"c":0.9862},
{"d":"2023-01-04","o":0.9862,"h":0.988,"l":0.9845,"c":0.986},
{"d":"2023-01-05","o":0.986,"h":0.9885,"l":0.9848,"c":0.9866},
{"d":"2023-01-06","o":0.9866,"h":0.9905,"l":0.9855,"c":0.9886},
{"d":"2023-01-09","o":0.9886,"h":0.9912,"l":0.9872,"c":0.989},
{"d":"2023-01-10","o":0.989,"h":0.9935,"l":0.988,"c":0.9894},
{"d":"2023-01-11","o":0.9894,"h":1.003,"l":0.9885,"c":1.0014},
{"d":"2023-01-12","o":1.0014,"h":1.0096,"l":1.0,"c":1.006},
{"d":"2023-01-13","o":1.006,"h":1.0075,"l":1.0018,"c":1.0032},
{"d":"2023-01-16","o":1.0032,"h":1.005,"l":1.0,"c":1.0014},
{"d":"2023-01-17","o":1.0014,"h":1.0022,"l":0.993,"c":0.9943},
{"d":"2023-01-18","o":0.9943,"h":0.9955,"l":0.9868,"c":0.9886},
{"d":"2023-01-19","o":0.9886,"h":0.9932,"l":0.987,"c":0.9917},
{"d":"2023-01-20","o":0.9917,"h":0.9995,"l":0.9905,"c":0.9984},
{"d":"2023-01-23","o":0.9984,"h":1.0025,"l":0.9972,"c":1.0009},
{"d":"2023-01-24","o":1.0009,"h":1.006,"l":0.9998,"c":1.0035},
{"d":"2023-01-25","o":1.0035,"h":1.0052,"l":1.0015,"c":1.003},
{"d":"2023-01-26","o":1.003,"h":1.0055,"l":1.0012,"c":1.0025},
{"d":"2023-01-27","o":1.0025,"h":1.0048,"l":1.0008,"c":1.002},
{"d":"2023-01-30","o":1.002,"h":1.004,"l":1.0005,"c":1.0022},
{"d":"2023-01-31","o":1.0022,"h":1.0032,"l":0.9932,"c":0.9945},
{"d":"2023-02-01","o":0.9945,"h":0.9985,"l":0.993,"c":0.996},
{"d":"2023-02-02","o":0.996,"h":0.9978,"l":0.9935,"c":0.995},
{"d":"2023-02-03","o":0.995,"h":1.0022,"l":0.9942,"c":1.0007},
{"d":"2023-02-06","o":1.0007,"h":1.0015,"l":0.9875,"c":0.9886},
{"d":"2023-02-07","o":0.9886,"h":0.9898,"l":0.9858,"c":0.987},
{"d":"2023-02-08","o":0.987,"h":0.9882,"l":0.9842,"c":0.9855},
{"d":"2023-02-09","o":0.9855,"h":0.9878,"l":0.984,"c":0.9858},
{"d":"2023-02-10","o":0.9858,"h":0.9872,"l":0.9838,"c":0.985},
{"d":"2023-02-13","o":0.985,"h":0.9875,"l":0.9842,"c":0.9858},
{"d":"2023-02-14","o":0.9858,"h":0.9902,"l":0.985,"c":0.9886},
{"d":"2023-02-15","o":0.9886,"h":0.9898,"l":0.9865,"c":0.9879},
{"d":"2023-02-16","o":0.9879,"h":0.991,"l":0.9868,"c":0.9882},
{"d":"2023-02-17","o":0.9882,"h":0.9895,"l":0.9865,"c":0.9878},
{"d":"2023-02-20","o":0.9878,"h":0.9888,"l":0.9845,"c":0.9856},
{"d":"2023-02-21","o":0.9856,"h":0.9885,"l":0.9848,"c":0.987},
{"d":"2023-02-22","o":0.987,"h":0.9895,"l":0.986,"c":0.9875},
{"d":"2023-02-23","o":0.9875,"h":0.9925,"l":0.9865,"c":0.9912},
{"d":"2023-02-24","o":0.9912,"h":0.9945,"l":0.99,"c":0.993},
{"d":"2023-02-27","o":0.993,"h":0.9962,"l":0.992,"c":0.9945},
{"d":"2023-02-28","o":0.9945,"h":1.004,"l":0.9935,"c":1.002},
{"d":"2023-03-01","o":1.002,"h":1.003,"l":0.9972,"c":0.9984},
{"d":"2023-03-02","o":0.9984,"h":0.9995,"l":0.9948,"c":0.996},
{"d":"2023-03-03","o":0.996,"h":0.9975,"l":0.9935,"c":0.9945},
{"d":"2023-03-06","o":0.9945,"h":0.9962,"l":0.9925,"c":0.9937},
{"d":"2023-03-07","o":0.9937,"h":0.9952,"l":0.9918,"c":0.993},
{"d":"2023-03-08","o":0.993,"h":0.9945,"l":0.9912,"c":0.9925},
{"d":"2023-03-09","o":0.9925,"h":0.9935,"l":0.9845,"c":0.9856},
{"d":"2023-03-10","o":0.9856,"h":0.9868,"l":0.9715,"c":0.9797},
{"d":"2023-03-13","o":0.9797,"h":0.9812,"l":0.974,"c":0.9776},
{"d":"2023-03-14","o":0.9776,"h":0.982,"l":0.9707,"c":0.9804},
{"d":"2023-03-15","o":0.9804,"h":0.988,"l":0.9795,"c":0.9868},
{"d":"2023-03-16","o":0.9868,"h":0.9885,"l":0.9845,"c":0.9862},
{"d":"2023-03-17","o":0.9862,"h":0.9882,"l":0.985,"c":0.987},
{"d":"2023-03-20","o":0.987,"h":0.9968,"l":0.9862,"c":0.9955},
{"d":"2023-03-21","o":0.9955,"h":0.9972,"l":0.9915,"c":0.9925},
{"d":"2023-03-22","o":0.9925,"h":0.9962,"l":0.9912,"c":0.9928},
{"d":"2023-03-23","o":0.9928,"h":0.9948,"l":0.987,"c":0.9886},
{"d":"2023-03-24","o":0.9886,"h":0.9912,"l":0.9872,"c":0.9884},
{"d":"2023-03-27","o":0.9884,"h":0.9905,"l":0.9868,"c":0.988},
{"d":"2023-03-28","o":0.988,"h":0.9996,"l":0.9872,"c":0.9971},
{"d":"2023-03-29","o":0.9971,"h":0.9985,"l":0.9938,"c":0.995},
{"d":"2023-03-30","o":0.995,"h":0.9968,"l":0.9905,"c":0.9917},
{"d":"2023-03-31","o":0.9917,"h":0.9935,"l":0.9892,"c":0.9904},
{"d":"2023-04-03","o":0.9904,"h":0.9945,"l":0.9895,"c":0.9915},
{"d":"2023-04-04","o":0.9915,"h":0.993,"l":0.9875,"c":0.9886},
{"d":"2023-04-05","o":0.9886,"h":0.9912,"l":0.9858,"c":0.9868},
{"d":"2023-04-06","o":0.9868,"h":0.9895,"l":0.985,"c":0.986},
{"d":"2023-04-07","o":0.986,"h":0.9875,"l":0.9842,"c":0.9853},
{"d":"2023-04-10","o":0.9853,"h":0.9868,"l":0.9835,"c":0.9848},
{"d":"2023-04-11","o":0.9848,"h":0.9872,"l":0.9838,"c":0.985},
{"d":"2023-04-12","o":0.985,"h":0.9862,"l":0.9808,"c":0.9817},
{"d":"2023-04-13","o":0.9817,"h":0.9838,"l":0.9805,"c":0.9815},
{"d":"2023-04-14","o":0.9815,"h":0.9842,"l":0.9802,"c":0.982},
{"d":"2023-04-17","o":0.982,"h":0.9845,"l":0.981,"c":0.9827},
{"d":"2023-04-18","o":0.9827,"h":0.984,"l":0.9808,"c":0.9822},
{"d":"2023-04-19","o":0.9822,"h":0.9832,"l":0.9778,"c":0.9789},
{"d":"2023-04-20","o":0.9789,"h":0.981,"l":0.9775,"c":0.9792},
{"d":"2023-04-21","o":0.9792,"h":0.9808,"l":0.9772,"c":0.979},
{"d":"2023-04-24","o":0.979,"h":0.9802,"l":0.9765,"c":0.9779},
{"d":"2023-04-25","o":0.9779,"h":0.9848,"l":0.977,"c":0.9835},
{"d":"2023-04-26","o":0.9835,"h":0.9879,"l":0.9825,"c":0.9861},
{"d":"2023-04-27","o":0.9861,"h":0.987,"l":0.9815,"c":0.9827},
{"d":"2023-04-28","o":0.9827,"h":0.9855,"l":0.9812,"c":0.9822},
{"d":"2023-05-01","o":0.9822,"h":0.9835,"l":0.9805,"c":0.9815},
{"d":"2023-05-02","o":0.9815,"h":0.9828,"l":0.9768,"c":0.9779},
{"d":"2023-05-03","o":0.9779,"h":0.9792,"l":0.974,"c":0.9751},
{"d":"2023-05-04","o":0.9751,"h":0.985,"l":0.9745,"c":0.981},
{"d":"2023-05-05","o":0.981,"h":0.9822,"l":0.9782,"c":0.9789},
{"d":"2023-05-08","o":0.9789,"h":0.9802,"l":0.9782,"c":0.97932}
]},
"encoding":{"x":{"field":"d","type":"ordinal","sort":null,"scale":{"type":"band","paddingInner":0.34,"paddingOuter":0,"rangeMax":1669},
"axis":{"orient":"bottom","title":null,"ticks":false,"grid":false,"domain":true,"domainColor":"#555555","domainWidth":1,"labelAngle":0,"labelPadding":7,"labelFont":"Roboto","labelFontSize":11,"labelFlush":false,"labelOverlap":false,
"values":["2021-04-01","2021-06-01","2021-08-02","2021-10-01","2021-11-15","2022-01-03","2022-03-01","2022-05-02","2022-07-01","2022-09-01","2022-11-01","2023-01-02","2023-03-01","2023-05-01"],
"labelExpr":"datum.value=='2021-11-15'?'15':(slice(datum.value,5,7)=='01'?slice(datum.value,0,4):utcFormat(toDate(datum.value+'T00:00:00Z'),'%b'))",
"labelColor":{"condition":{"test":"slice(datum.value,5,7)=='01'","value":"#131722"},"value":"#5d606b"}}}},
"layer":[
{"mark":{"type":"rule","color":"#000000","strokeWidth":1,"xOffset":0.5},
"encoding":{"y":{"field":"l","type":"quantitative","scale":{"domain":[0.92358,1.13204],"zero":false,"nice":false},
"axis":{"orient":"right","title":"CHF","titleAngle":0,"titleAlign":"left","titleBaseline":"middle","titleX":7,"titleY":11,"titleFont":"Roboto","titleFontSize":11,"titleFontWeight":"normal","titleColor":"#5d606b","ticks":false,"grid":true,"gridColor":{"condition":{"test":"datum.value<0.925","value":"#555555"},"value":"transparent"},"gridWidth":1,"domain":true,"domainColor":"#555555","domainWidth":1,"labelPadding":7,"labelFont":"Roboto","labelFontSize":11,"labelAlign":"left","labelBaseline":"middle","labelOverlap":false,"labelFlush":false,
"values":[0.92358,0.93,0.94,0.95,0.96,0.97,0.97932,0.99,1.0,1.01,1.02,1.03,1.04,1.05,1.06,1.07,1.08,1.09,1.1,1.11,1.12],
"labelExpr":"datum.value<0.925?'':format(datum.value,'.5f')",
"labelColor":{"condition":{"test":"datum.value==0.97932","value":"#000000"},"value":"#5d606b"}}},
"y2":{"field":"h"}}},
{"mark":{"type":"bar","stroke":"#000000","strokeWidth":1,"xOffset":0.5},
"encoding":{"y":{"field":"o","type":"quantitative"},"y2":{"field":"c"},
"fill":{"condition":{"test":"datum.c>=datum.o","value":"#ffffff"},"value":"#000000"}}}
]}
